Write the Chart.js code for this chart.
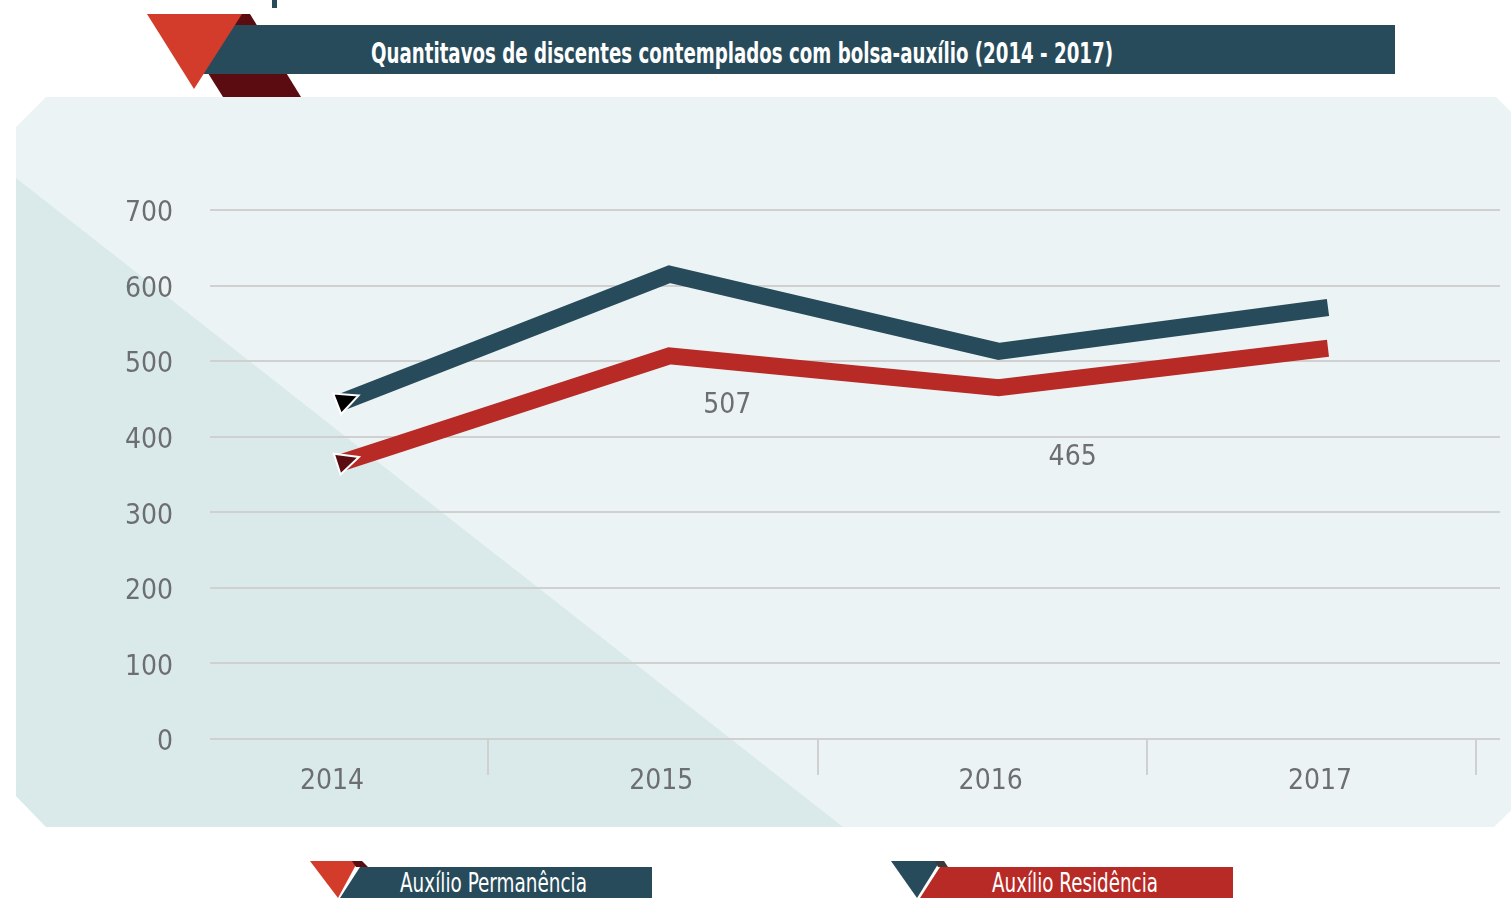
<!DOCTYPE html>
<html>
<head>
<meta charset="utf-8">
<script src="https://cdn.jsdelivr.net/npm/chart.js@4.4.1/dist/chart.umd.min.js"></script>
<style>
  html, body { margin: 0; padding: 0; background: #fff; }
  #wrap { position: relative; width: 1511px; height: 898px; overflow: hidden; }
  #deco, #myChart { position: absolute; left: 0; top: 0; }
  .narrow { font-family: 'Liberation Sans Narrow', 'DejaVu Sans Condensed', sans-serif; }
</style>
</head>
<body>
<div id="wrap">
  <svg id="deco" width="1511" height="898" xmlns="http://www.w3.org/2000/svg">
    <!-- panel -->
    <polygon points="46,97 1496,97 1526,127 1526,796 1494,827 46,827 16,796 16,127" fill="#ebf3f5"/>
    <polygon points="16,178 843,827 46,827 16,796" fill="#dae9e9"/>
    <!-- title banner -->
    <rect x="272" y="0" width="5" height="8" fill="#274b5a"/>
    <polygon points="238,14 250,14 301,97 223,97 196,54" fill="#5a0c10"/>
    <polygon points="230,25 1395,25 1395,74 200,74" fill="#274b5a"/>
    <polygon points="147,14 242,14 194,89" fill="#d33c2b"/>
    <text class="narrow" x="371" y="63" font-size="28" font-weight="bold" fill="#fff"
          textLength="742" lengthAdjust="spacingAndGlyphs">Quantitavos de discentes contemplados com bolsa-auxílio (2014 - 2017)</text>
    <!-- legend -->
    <polygon points="310,861 358,861 338,898" fill="#d33c2b"/>
    <polygon points="352,861 362,861 368,867 356,867" fill="#5a0c10"/>
    <polygon points="360,867 652,867 652,898 340,898" fill="#274b5a"/>
    <text class="narrow" x="400" y="892" font-size="26" fill="#fff"
          textLength="187" lengthAdjust="spacingAndGlyphs">Auxílio Permanência</text>
    <polygon points="891,861 940,861 917,898" fill="#274b5a"/>
    <polygon points="935,861 944,861 948,867 938,867" fill="#3a3a3a"/>
    <polygon points="940,867 1233,867 1233,898 920,898" fill="#b82a26"/>
    <text class="narrow" x="992" y="892" font-size="26" fill="#fff"
          textLength="166" lengthAdjust="spacingAndGlyphs">Auxílio Residência</text>
  </svg>
  <canvas id="myChart" width="1511" height="898"></canvas>
</div>
<script>
const years = [2014, 2015, 2016, 2017];
const permanencia = [445, 615, 513, 571];
const residencia = [365, 507, 465, 517];
const residenciaLabels = ['', '507', '465', ''];

const fontFamily = "'Liberation Sans Narrow', 'DejaVu Sans Condensed', sans-serif";
const gray = '#6d6e70';
const gridColor = '#d0d0d0';

const toPoints = (vals) => years.map((y, i) => ({ x: y, y: vals[i] }));

// arrowheads at the start of each line
const arrowPlugin = {
  id: 'arrows',
  afterDatasetsDraw(chart) {
    const c = chart.ctx;
    const fills = ['#000000', '#5a0c10'];
    chart.data.datasets.forEach((ds, di) => {
      const pts = chart.getDatasetMeta(di).data;
      const p0 = pts[0], p1 = pts[1];
      let ux = p1.x - p0.x, uy = p1.y - p0.y;
      const len = Math.hypot(ux, uy);
      ux /= len; uy /= len;
      const nx = -uy, ny = ux;
      c.save();
      c.beginPath();
      c.moveTo(p0.x + ux * 20, p0.y + uy * 20);
      c.lineTo(p0.x - nx * 11 - ux * 3, p0.y - ny * 11 - uy * 3);
      c.lineTo(p0.x + nx * 11 - ux * 3, p0.y + ny * 11 - uy * 3);
      c.closePath();
      c.fillStyle = fills[di];
      c.fill();
      c.strokeStyle = '#fff';
      c.lineWidth = 2;
      c.stroke();
      c.restore();
    });
  }
};

// value labels for residencia + the short tick marks under the axis
const extrasPlugin = {
  id: 'extras',
  afterDraw(chart) {
    const c = chart.ctx;
    const xs = chart.scales.x;
    const bottom = chart.chartArea.bottom;
    c.save();
    c.strokeStyle = gridColor;
    c.lineWidth = 2;
    years.forEach((y) => {
      const px = Math.round(xs.getPixelForValue(y + 0.45));
      c.beginPath();
      c.moveTo(px, bottom);
      c.lineTo(px, bottom + 36);
      c.stroke();
    });
    const offs = [[0, 0], [58, 50], [74, 70], [0, 0]];
    const pts = chart.getDatasetMeta(1).data;
    c.fillStyle = gray;
    c.font = '28px ' + fontFamily;
    c.textAlign = 'center';
    c.textBaseline = 'middle';
    residenciaLabels.forEach((lbl, i) => {
      if (!lbl) return;
      c.fillText(lbl, pts[i].x + offs[i][0], pts[i].y + offs[i][1]);
    });
    c.restore();
  }
};

const ctx = document.querySelector('#myChart');

new Chart(ctx, {
  type: 'line',
  data: {
    datasets: [
      {
        label: 'Auxílio Permanência',
        data: toPoints(permanencia),
        borderColor: '#274b5a',
        borderWidth: 17,
        borderCapStyle: 'butt',
        borderJoinStyle: 'miter',
        pointRadius: 0,
        tension: 0,
        fill: false
      },
      {
        label: 'Auxílio Residência',
        data: toPoints(residencia),
        borderColor: '#b82a26',
        borderWidth: 17,
        borderCapStyle: 'butt',
        borderJoinStyle: 'miter',
        pointRadius: 0,
        tension: 0,
        fill: false
      }
    ]
  },
  options: {
    responsive: false,
    animation: false,
    devicePixelRatio: 1,
    layout: { padding: { top: 210, right: 11, bottom: 0, left: 0 } },
    plugins: { legend: { display: false }, tooltip: { enabled: false } },
    scales: {
      x: {
        type: 'linear',
        min: 2013.6053,
        max: 2017.5223,
        afterBuildTicks: (scale) => { scale.ticks = years.map((v) => ({ value: v })); },
        afterFit: (scale) => { scale.height = 159; },
        grid: { display: false },
        border: { display: false },
        ticks: {
          color: gray,
          padding: 18,
          maxRotation: 0,
          labelOffset: -8,
          font: { family: fontFamily, size: 28 },
          callback: (v) => String(v)
        }
      },
      y: {
        min: 0,
        max: 700,
        afterFit: (scale) => { scale.width = 210; },
        grid: { color: gridColor, lineWidth: 2, drawTicks: false },
        border: { display: false },
        ticks: {
          stepSize: 100,
          color: gray,
          padding: 37,
          labelOffset: 4,
          font: { family: fontFamily, size: 28 }
        }
      }
    }
  },
  plugins: [arrowPlugin, extrasPlugin]
});
</script>
</body>
</html>
